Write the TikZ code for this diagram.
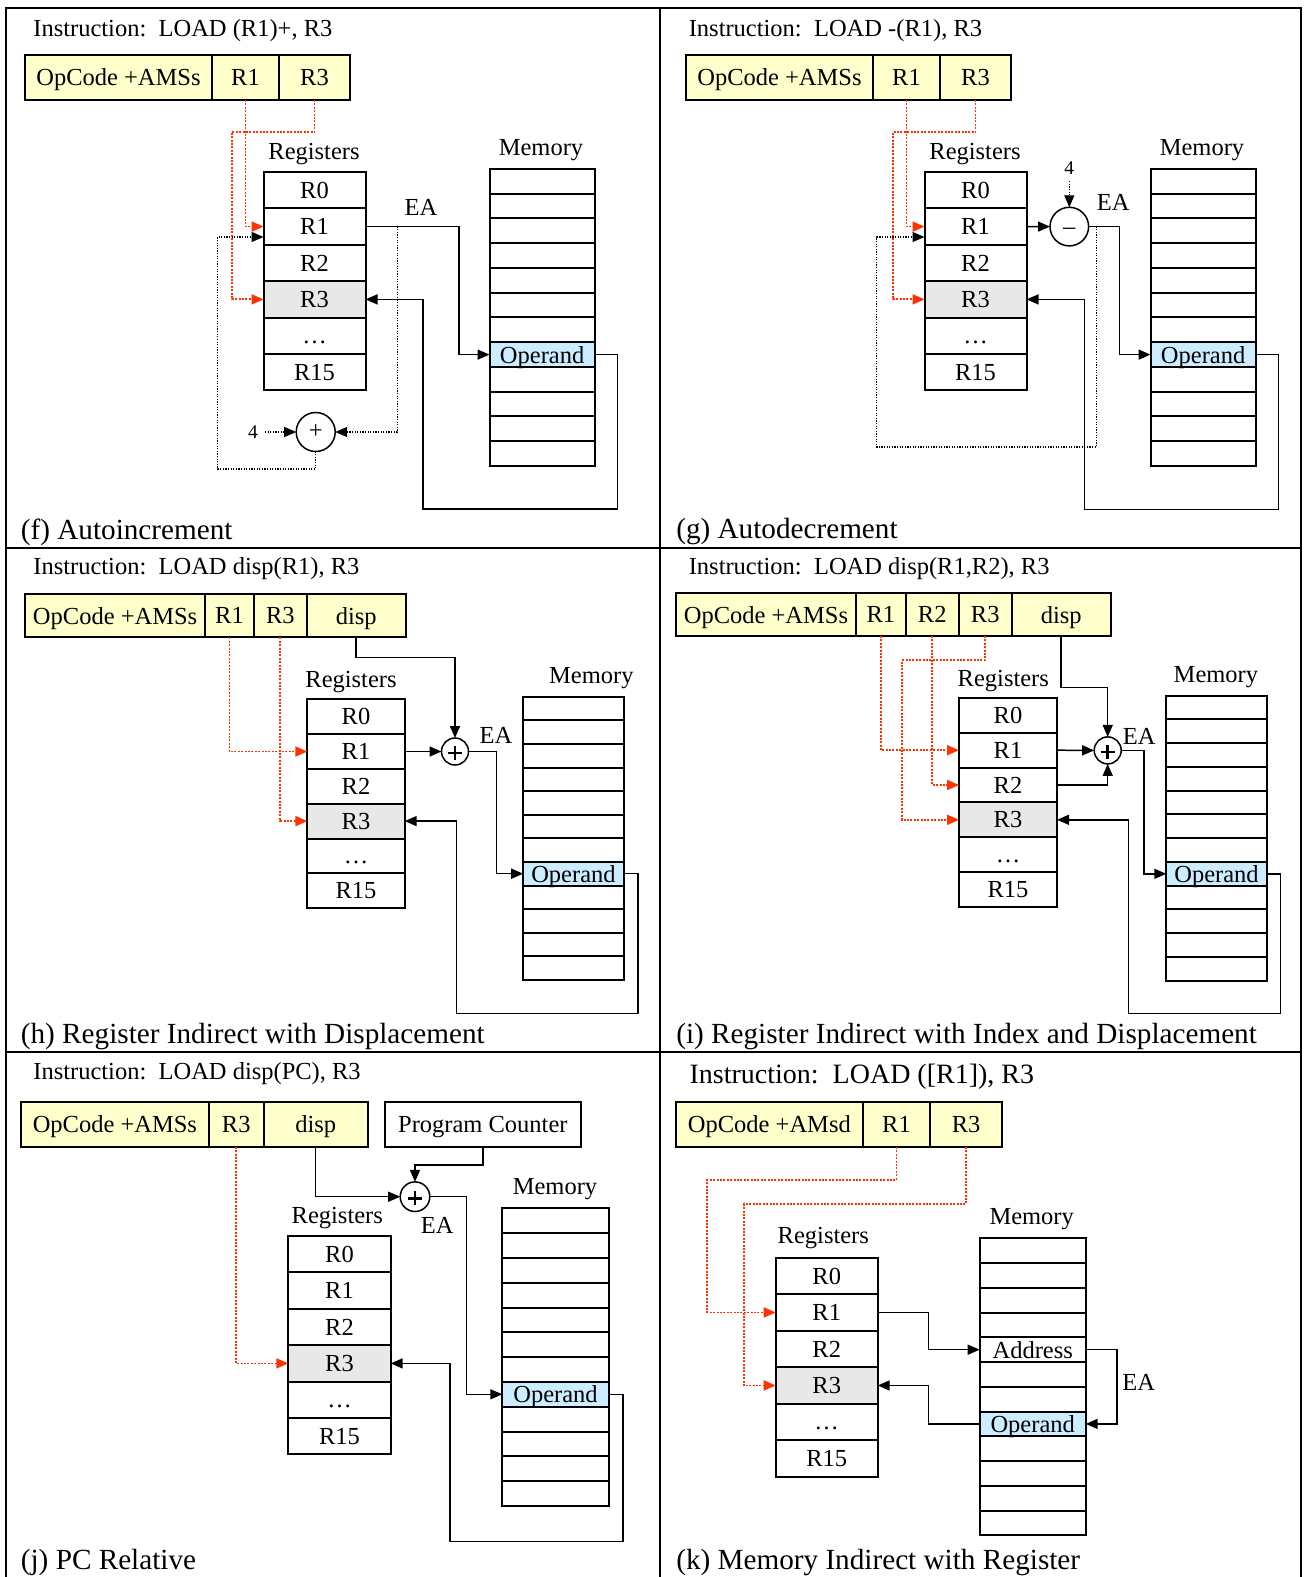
\documentclass[tikz,border=0pt]{standalone}
\usepackage{fontspec}
\setmainfont{Liberation Serif}
\usetikzlibrary{arrows.meta,calc}
\definecolor{instrfill}{RGB}{255,255,204}
\definecolor{regfill}{RGB}{232,232,232}
\definecolor{opfill}{RGB}{204,236,255}
\definecolor{redline}{RGB}{255,51,0}
\newcommand{\mkcell}[7]{\node[#2,anchor=north west,minimum width={(#5)*0.5pt},minimum height={(#6)*0.5pt}] (#1) at ({#3},{#4}) {#7};}
\newcommand{\mkregs}[5]{%
 \mkcell{#1r0}{reg}{#2}{#3}{#4}{#5}{R0}
 \mkcell{#1r1}{reg}{#2}{#3+#5}{#4}{#5}{R1}
 \mkcell{#1r2}{reg}{#2}{#3+2*#5}{#4}{#5}{R2}
 \mkcell{#1r3}{reg,fill=regfill}{#2}{#3+3*#5}{#4}{#5}{R3}
 \mkcell{#1r4}{reg}{#2}{#3+4*#5}{#4}{#5}{\vphantom{R}\dots}
 \mkcell{#1r5}{reg}{#2}{#3+5*#5}{#4}{#5}{R15}
}
\newcommand{\mkmem}[6]{\foreach \n in {#6} {\mkcell{#1m\n}{mem}{#2}{#3+(\n-1)*#5}{#4}{#5}{}}}
\tikzset{
 fld/.style={draw,line width=1pt,fill=instrfill,inner sep=0pt,outer sep=0pt,text depth=0pt},
 reg/.style={draw,line width=1pt,fill=white,inner sep=0pt,outer sep=0pt,text depth=0pt},
 mem/.style={draw,line width=1pt,fill=white,inner sep=0pt,outer sep=0pt,text depth=0pt},
 pcbox/.style={draw,line width=1pt,fill=white,inner sep=0pt,outer sep=0pt,text depth=0pt},
 conn/.style={line width=0.75pt},
 reddot/.style={color=redline,line width=0.9pt,dash pattern=on 1pt off 0.7pt},
 blkdot/.style={line width=0.6pt,dash pattern=on 0.6pt off 0.7pt},
 lbl/.style={inner sep=0pt},
 ttl/.style={anchor=west,inner sep=0pt},
 capt/.style={anchor=west,inner sep=0pt,font=\fontsize{14.6}{16}\selectfont},
 opnode/.style={circle,draw,line width=0.75pt,fill=white,inner sep=0pt,outer sep=0pt},
 boldop/.style={opnode,path picture={
   \draw[line width=1.4pt] ($(path picture bounding box.center)+(-6.8,1.5)$) -- ++(13.6,0);
   \draw[line width=1.4pt] ($(path picture bounding box.center)+(0,-5.5)$) -- ++(0,14);}},
 smalltxt/.style={font=\fontsize{9.75}{11}\selectfont},
 frame/.style={line width=1pt},
}
\begin{document}
\begin{tikzpicture}[x=0.5pt,y=-0.5pt,font=\fontsize{12.25}{14}\selectfont,>={Triangle[length=6pt,width=5pt]}]
\useasboundingbox (0,0) rectangle (1309,1577);
% frame
\draw[frame] (6,1577) -- (6,8) -- (1301,8) -- (1301,1577);
\draw[frame] (660,8) -- (660,1577);
\draw[frame] (6,548) -- (1301,548);
\draw[frame] (6,1052) -- (1301,1052);

% ===== (f) =====
\node[ttl] (ftitle) at (33,31) {Instruction:\enspace LOAD (R1)+, R3};
\mkcell{fiop}{fld}{25}{55}{187}{45}{OpCode +AMSs}
\mkcell{fir1}{fld}{212}{55}{67}{45}{R1}
\mkcell{fir3}{fld}{279}{55}{71}{45}{R3}
\node[lbl] (freglbl) at (314,154) {Registers};
\mkregs{f}{263.5}{172}{102}{36.4}
\node[lbl] (fmemlbl) at (541,150) {Memory};
\mkmem{f}{489.5}{169}{105.2}{24.75}{1,2,3,4,5,6,7,9,10,11,12}
\mkcell{fm8}{mem,fill=opfill}{489.5}{169+7*24.75}{105.2}{24.75}{Operand}
\node[lbl] (fea) at (421,207) {EA};
\node[opnode,minimum size=39*0.5pt] (fplus) at (315.7,432) {+};
\node[smalltxt] (ffour) at (253,432) {4};
\draw[conn,->] (fr1.east) -| ($(fm8.west)+(-30.5,0)$) -- (fm8.west);
\draw[conn,<-] (fr3.east) -| (423,509) -| ($(fm8.east)+(22.7,0)$) -- (fm8.east);
\draw[reddot,->] (fir1.south) |- (fr1.west);
\draw[reddot,->] (fir3.south) |- (231.7,132) |- (fr3.west);
\coordinate (fbr) at ($(fr1.east)+(31.8,0)$);
\draw[blkdot,->] (fbr) |- (fplus.east);
\draw[blkdot,->] (ffour) -- (fplus.west);
\draw[blkdot,->] (fplus.south) |- (217.7,469) |- ($(fr1.west)+(0,10.4)$);
\node[capt] (fcap) at (20.5,532) {(f) Autoincrement};

% ===== (g) =====
\node[ttl] (gtitle) at (688.4,31) {Instruction:\enspace LOAD -(R1), R3};
\mkcell{giop}{fld}{686}{55}{187}{45}{OpCode +AMSs}
\mkcell{gir1}{fld}{873}{55}{67}{45}{R1}
\mkcell{gir3}{fld}{940}{55}{71}{45}{R3}
\node[lbl] (greglbl) at (975,154) {Registers};
\mkregs{g}{924.5}{172}{102}{36.4}
\node[lbl] (gmemlbl) at (1202,150) {Memory};
\mkmem{g}{1150.5}{169}{105.2}{24.75}{1,2,3,4,5,6,7,9,10,11,12}
\mkcell{gm8}{mem,fill=opfill}{1150.5}{169+7*24.75}{105.2}{24.75}{Operand}
\node[lbl] (gea) at (1113.3,202.5) {EA};
\node[opnode,minimum size=38.6*0.5pt] (gminus) at (1069.3,226.6) {\vphantom{A}–};
\node[smalltxt] (gfour) at (1069.3,167.7) {4};
\draw[conn,->] (gr1.east) -- (gminus.west);
\draw[conn,->] (gminus.east) -| ($(gm8.west)+(-31.2,0)$) -- (gm8.west);
\draw[conn,<-] (gr3.east) -| (1084.3,509.3) -| ($(gm8.east)+(22.7,0)$) -- (gm8.east);
\draw[reddot,->] (gir1.south) |- (gr1.west);
\draw[reddot,->] (gir3.south) |- (892.7,132.2) |- (gr3.west);
\coordinate (gbr) at ($(gminus.east)+(7.7,0)$);
\draw[blkdot,->] (gbr) |- (876.7,447) |- ($(gr1.west)+(0,10.4)$);
\draw[blkdot,->] (gfour) -- (gminus.north);
\node[capt] (gcap) at (675.9,532) {(g) Autodecrement};

% ===== (h) =====
\node[ttl] (htitle) at (33,569) {Instruction:\enspace LOAD disp(R1), R3};
\mkcell{hiop}{fld}{25.2}{594}{179.8}{43.3}{OpCode +AMSs}
\mkcell{hir1}{fld}{205}{594}{49}{43.3}{R1}
\mkcell{hir3}{fld}{254}{594}{52.7}{43.3}{R3}
\mkcell{hidisp}{fld}{306.7}{594}{99}{43.3}{disp}
\node[lbl] (hreglbl) at (351,682) {Registers};
\mkregs{h}{307.3}{699.3}{97.4}{34.8}
\node[lbl] (hmemlbl) at (591.3,678.3) {Memory};
\mkmem{h}{523.2}{696.7}{100.5}{23.6}{1,2,3,4,5,6,7,9,10,11,12}
\mkcell{hm8}{mem,fill=opfill}{523.2}{696.7+7*23.6}{100.5}{23.6}{Operand}
\node[lbl] (hea) at (496,735) {EA};
\node[boldop,minimum size=27*0.5pt] (hplus) at (455,751.5) {};
\draw[conn,->] (hidisp.south) |- (455,657.3) -- (hplus.north);
\draw[conn,->] (hr1.east) -- (hplus.west);
\draw[conn,->] (hplus.east) -| ($(hm8.west)+(-26.9,0)$) -- (hm8.west);
\draw[conn,<-] (hr3.east) -| (456.7,1013.3) -| ($(hm8.east)+(14.3,0)$) -- (hm8.east);
\draw[reddot,->] (hir1.south) |- (hr1.west);
\draw[reddot,->] (hir3.south) |- (hr3.west);
\node[capt] (hcap) at (20.5,1036.5) {(h) Register Indirect with Displacement};

% ===== (i) =====
\node[ttl] (ititle) at (688.4,569) {Instruction:\enspace LOAD disp(R1,R2), R3};
\mkcell{iiop}{fld}{676}{593.3}{180}{42.7}{OpCode +AMSs}
\mkcell{iir1}{fld}{856}{593.3}{49.7}{42.7}{R1}
\mkcell{iir2}{fld}{905.7}{593.3}{53}{42.7}{R2}
\mkcell{iir3}{fld}{958.7}{593.3}{53}{42.7}{R3}
\mkcell{iidisp}{fld}{1011.7}{593.3}{99}{42.7}{disp}
\node[lbl] (ireglbl) at (1003.3,681) {Registers};
\mkregs{i}{959}{698}{98}{34.8}
\node[lbl] (imemlbl) at (1215.9,677) {Memory};
\mkmem{i}{1166.3}{695.7}{100.5}{23.75}{1,2,3,4,5,6,7,9,10,11,12}
\mkcell{im8}{mem,fill=opfill}{1166.3}{695.7+7*23.75}{100.5}{23.75}{Operand}
\node[lbl] (iea) at (1139.3,736) {EA};
\node[boldop,minimum size=27*0.5pt] (iplus) at (1107.7,750.4) {};
\draw[conn,->] (iidisp.south) |- (1107.7,687.3) -- (iplus.north);
\draw[conn,->] (ir1.east) -- (iplus.west);
\draw[conn,->] (ir2.east) -| (iplus.south);
\draw[conn,->] (iplus.east) -| ($(im8.west)+(-22.3,0)$) -- (im8.west);
\draw[conn,<-] (ir3.east) -| (1128.7,1013.3) -| ($(im8.east)+(13.7,0)$) -- (im8.east);
\draw[reddot,->] (iir1.south) |- (ir1.west);
\draw[reddot,->] (iir2.south) |- (ir2.west);
\draw[reddot,->] (iir3.south) |- (902,660.3) |- (ir3.west);
\node[capt] (icap) at (675.9,1036.5) {(i) Register Indirect with Index and Displacement};

% ===== (j) =====
\node[ttl] (jtitle) at (33,1074) {Instruction:\enspace LOAD disp(PC), R3};
\mkcell{jiop}{fld}{21}{1101.7}{187.8}{45}{OpCode +AMSs}
\mkcell{jir3}{fld}{208.8}{1101.7}{54.9}{45}{R3}
\mkcell{jidisp}{fld}{263.7}{1101.7}{104}{45}{disp}
\mkcell{jpc}{pcbox}{384.7}{1101.7}{196.3}{45}{Program Counter}
\node[boldop,minimum size=29.6*0.5pt] (jplus) at (415,1196.7) {};
\draw[conn,->] (jidisp.south) |- (jplus.west);
\draw[conn,->] (jpc.south) |- (415,1165) -- (jplus.north);
\node[lbl] (jea) at (437.3,1225) {EA};
\node[lbl] (jmemlbl) at (555,1189.3) {Memory};
\mkmem{j}{502.3}{1208.3}{106.4}{24.8}{1,2,3,4,5,6,7,9,10,11,12}
\mkcell{jm8}{mem,fill=opfill}{502.3}{1208.3+7*24.8}{106.4}{24.8}{Operand}
\draw[conn,->] (jplus.east) -| ($(jm8.west)+(-35.6,0)$) -- (jm8.west);
\node[lbl] (jreglbl) at (337.3,1217.7) {Registers};
\mkregs{j}{288.3}{1236}{102.4}{36.4}
\draw[reddot,->] (jir3.south) |- (jr3.west);
\draw[conn,<-] (jr3.east) -| (450,1541.7) -| ($(jm8.east)+(14.2,0)$) -- (jm8.east);
\node[capt] (jcap) at (20.5,1562) {(j) PC Relative};

% ===== (k) =====
\node[ttl,font=\fontsize{14}{16}\selectfont] (ktitle) at (689.2,1077) {Instruction:\enspace LOAD ([R1]), R3};
\mkcell{kiop}{fld}{676}{1101.6}{186.7}{45.4}{OpCode +AMsd}
\mkcell{kir1}{fld}{862.7}{1101.6}{67.5}{45.4}{R1}
\mkcell{kir3}{fld}{930.2}{1101.6}{71.8}{45.4}{R3}
\node[lbl] (kreglbl) at (823.3,1238.3) {Registers};
\mkregs{k}{775.7}{1257.7}{102}{36.5}
\node[lbl] (kmemlbl) at (1031.7,1219.3) {Memory};
\mkmem{k}{979.7}{1238.3}{106}{24.75}{1,2,3,4,6,7,9,10,11,12}
\mkcell{km5}{mem}{979.7}{1238.3+4*24.75}{106}{24.75}{Address}
\mkcell{km8}{mem,fill=opfill}{979.7}{1238.3+7*24.75}{106}{24.75}{Operand}
\draw[reddot,->] (kir1.south) |- (707.3,1180) |- (kr1.west);
\draw[reddot,->] (kir3.south) |- (744,1204) |- (kr3.west);
\draw[conn,->] (kr1.east) -| ($(km5.west)+(-51.4,0)$) -- (km5.west);
\draw[conn,<-] (kr3.east) -| ($(km8.west)+(-51.4,0)$) -- (km8.west);
\draw[conn,->] (km5.east) -| ($(km8.east)+(31.3,0)$) -- (km8.east);
\node[lbl] (kea) at (1138.7,1382) {EA};
\node[capt] (kcap) at (675.9,1562) {(k) Memory Indirect with Register};
\end{tikzpicture}
\end{document}
